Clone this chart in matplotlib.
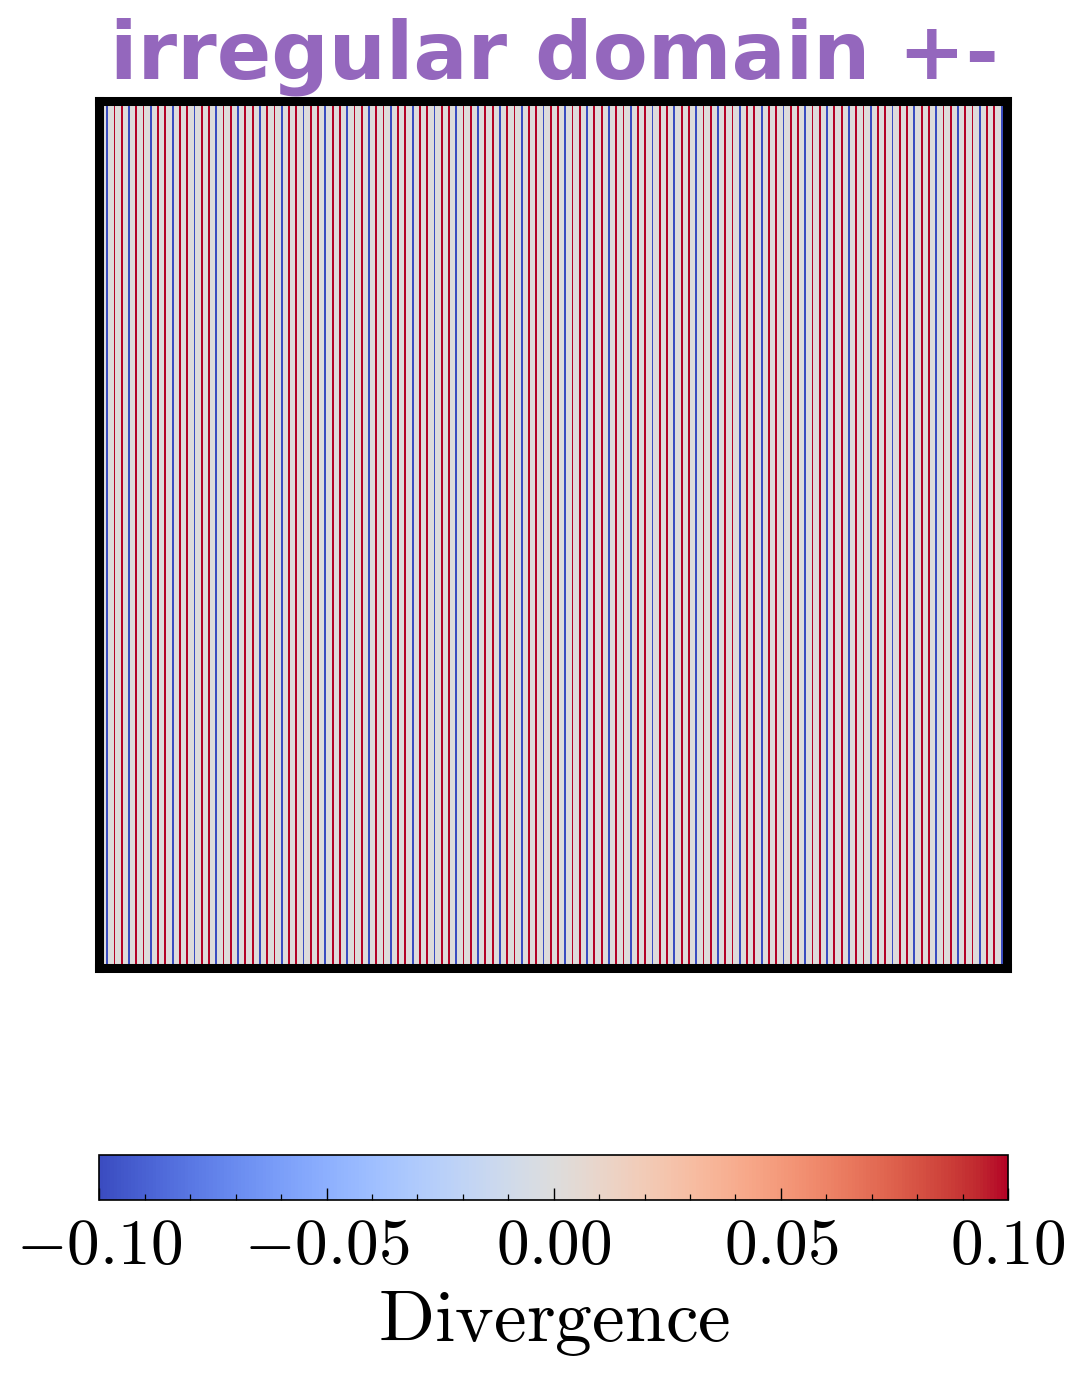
import numpy as np
import matplotlib
matplotlib.use('Agg')
import matplotlib.pyplot as plt
from matplotlib.ticker import MultipleLocator

# stripe colours read left to right: B = negative, R = positive
STRIPES = ("BRRBRRBRRBRRBRRBRRBRRBRRBRRBRRBRRBRRBRRBRR"
           "BRRBRRBRRBRRBRRBRRBRRBRRBRRBRRBRRBRRBRRBRR"
           "BRRBRRBRRBRRBRRBRRBRRBRRBRRBRRBRRBRRBRRB")
DIV_LEVEL = 0.1
VMIN, VMAX = -0.1, 0.1
CBAR_TICKS = [-0.10, -0.05, 0.00, 0.05, 0.10]
TITLE = 'irregular domain +-'
CBAR_LABEL = 'Divergence'

NX, NY = 500, 477
STEP = 4

plt.rcParams['mathtext.fontset'] = 'cm'

signs = np.array([1.0 if c == 'R' else -1.0 for c in STRIPES])
field = np.zeros((NY, NX))
cols = STEP * np.arange(1, len(signs) + 1)
field[:, cols] = signs * DIV_LEVEL

fig = plt.figure(figsize=(10.81, 13.74), dpi=100)
ax = fig.add_axes([0.092, 0.2955, 0.840, 0.631])
im = ax.imshow(field, cmap='coolwarm', vmin=VMIN, vmax=VMAX,
               interpolation='nearest', aspect='auto', origin='lower')
ax.set_xticks([])
ax.set_yticks([])
for sp in ax.spines.values():
    sp.set_linewidth(6.5)
    sp.set_color('black')

fig.text(0.5125, 0.943, TITLE, ha='center', va='baseline',
         fontsize=57.8, fontweight='bold', color='#9467bd')

cax = fig.add_axes([0.092, 0.1266, 0.8405, 0.0328])
cb = fig.colorbar(im, cax=cax, orientation='horizontal')
cb.outline.set_linewidth(1.2)
cb.set_ticks(CBAR_TICKS)
cb.ax.set_xticklabels([r'$%.2f$' % t for t in CBAR_TICKS])
cb.ax.xaxis.set_minor_locator(MultipleLocator(0.01))
cb.ax.tick_params(axis='x', which='major', direction='in', length=8.5,
                  width=1.0, labelsize=47, pad=10)
cb.ax.tick_params(axis='x', which='minor', direction='in', length=4.3,
                  width=0.9)
cb.set_label(r'$\mathrm{' + CBAR_LABEL + '}$', fontsize=53, labelpad=5)

fig.savefig('out.png', dpi=100)
